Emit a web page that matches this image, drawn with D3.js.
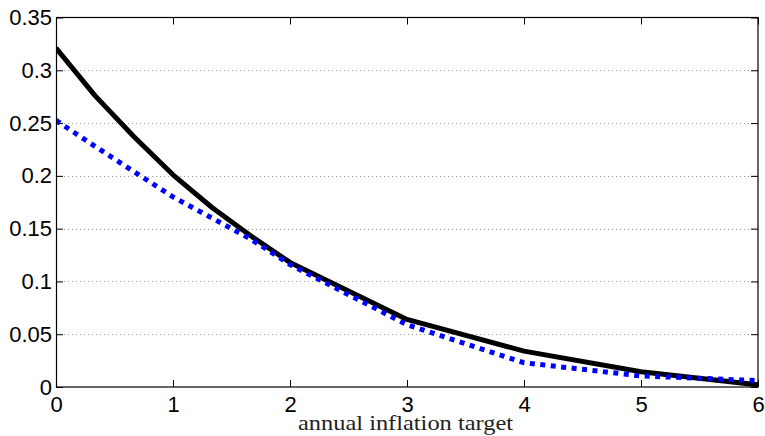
<!DOCTYPE html>
<html>
<head>
<meta charset="utf-8">
<script src="https://cdn.jsdelivr.net/npm/d3@7"></script>
<style>
  html, body { margin: 0; padding: 0; background: #fff; }
  svg { display: block; }
</style>
</head>
<body>
<svg id="chart" width="765" height="436"></svg>
<script>
// Inflation target (years on x), grid of evaluation points
const targets = [0, 1/3, 2/3, 1, 4/3, 5/3, 2, 3, 4, 5, 6];
// Solid black series
const solidSeries = [0.321, 0.276, 0.237, 0.201, 0.170, 0.143, 0.118, 0.064, 0.034, 0.0145, 0.002];
// Dotted blue series
const dottedSeries = [0.2525, 0.228, 0.204, 0.180, 0.160, 0.140, 0.116, 0.059, 0.023, 0.0105, 0.006];
const xTicks = [0, 1, 2, 3, 4, 5, 6];
const yTicks = [0, 0.05, 0.1, 0.15, 0.2, 0.25, 0.3, 0.35];
const xTitle = "annual inflation target";

const svg = d3.select("#chart");
const m = { left: 56, top: 17.5, right: 758, bottom: 387 };

const x = d3.scaleLinear().domain([0, 6]).range([m.left, m.right]);
const y = d3.scaleLinear().domain([0, 0.35]).range([m.bottom, m.top]);

// horizontal dotted grid
svg.append("g")
  .selectAll("line")
  .data(yTicks.filter(d => d > 0 && d < 0.35))
  .join("line")
  .attr("x1", m.left).attr("x2", m.right)
  .attr("y1", d => Math.round(y(d)) + 0.5).attr("y2", d => Math.round(y(d)) + 0.5)
  .attr("stroke", "#9a9a9a")
  .attr("stroke-width", 1)
  .attr("stroke-dasharray", "1,3");

const tickLen = 7;
const tickFont = "22px";
const fmtY = d => d === 0 ? "0" : String(+d.toFixed(2));

// axes with inward ticks on all four sides
const axL = d3.axisLeft(y).tickValues(yTicks).tickSize(-tickLen).tickPadding(4).tickFormat(fmtY);
const axR = d3.axisRight(y).tickValues(yTicks).tickSize(-tickLen).tickFormat("");
const axB = d3.axisBottom(x).tickValues(xTicks).tickSize(-tickLen).tickPadding(9).tickFormat(d3.format("d"));
const axT = d3.axisTop(x).tickValues(xTicks).tickSize(-tickLen).tickFormat("");

function style(g) {
  g.attr("font-size", null).attr("font-family", null);
  g.select(".domain").remove();
  g.selectAll(".tick line").attr("stroke", "#000").attr("stroke-width", 1);
  g.selectAll("text").attr("fill", "#000")
    .attr("font-family", "'Liberation Sans', Arial, sans-serif")
    .attr("font-size", tickFont);
}

svg.append("g").attr("transform", `translate(${m.left},0)`).call(axL).call(style);
svg.append("g").attr("transform", `translate(${m.right},0)`).call(axR).call(style);
svg.append("g").attr("transform", `translate(0,${m.bottom})`).call(axB).call(style);
svg.append("g").attr("transform", `translate(0,${m.top})`).call(axT).call(style);

// data lines, clipped to the plot box
svg.append("clipPath").attr("id", "plotclip")
  .append("rect").attr("x", m.left).attr("y", m.top)
  .attr("width", m.right - m.left).attr("height", m.bottom - m.top);

const line = d3.line().x(d => x(d[0])).y(d => y(d[1]));
const plot = svg.append("g").attr("clip-path", "url(#plotclip)");

plot.append("path")
  .datum(targets.map((t, i) => [t, solidSeries[i]]))
  .attr("d", line)
  .attr("fill", "none")
  .attr("stroke", "#000")
  .attr("stroke-width", 5)
  .attr("stroke-linejoin", "round");

plot.append("path")
  .datum(targets.map((t, i) => [t, dottedSeries[i]]))
  .attr("d", line)
  .attr("fill", "none")
  .attr("stroke", "#0000ff")
  .attr("stroke-width", 5)
  .attr("stroke-dasharray", "5,5.5");

// plot frame
svg.append("rect")
  .attr("x", m.left + 0.5).attr("y", m.top)
  .attr("width", m.right - m.left - 0.5).attr("height", m.bottom - m.top)
  .attr("fill", "none").attr("stroke", "#000").attr("stroke-width", 1.2);

// x-axis title
svg.append("text")
  .attr("x", 405.5)
  .attr("y", 430)
  .attr("text-anchor", "middle")
  .attr("fill", "#222")
  .attr("font-family", "'Liberation Serif', 'DejaVu Serif', serif")
  .attr("font-size", "22px")
  .attr("textLength", 215)
  .attr("lengthAdjust", "spacingAndGlyphs")
  .text(xTitle);
</script>
</body>
</html>
